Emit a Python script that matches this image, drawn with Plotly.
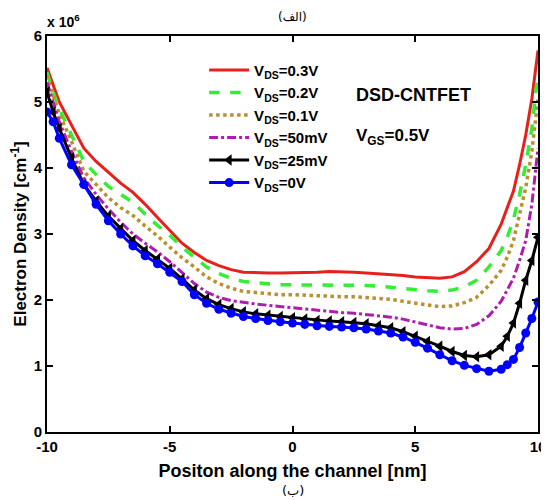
import plotly.graph_objects as go

x_nm = [-10, -9.75, -9.5, -9, -8.5, -8, -7.5, -7, -6.5, -6, -5.5, -5, -4.5, -4, -3.5, -3, -2.5, -2,
        -1.5, -1, -0.5, 0, 0.5, 1, 1.5, 2, 2.5, 3, 3.5, 4, 4.5, 5, 5.5, 6, 6.5, 7, 7.5, 8,
        8.5, 8.75, 9, 9.25, 9.5, 9.75, 10]

vds_03 = [5.52, 5.25, 5.0, 4.65, 4.3, 4.1, 3.93, 3.77, 3.63, 3.45, 3.25, 3.05, 2.86, 2.72, 2.6, 2.52, 2.46, 2.42,
          2.41, 2.41, 2.41, 2.41, 2.41, 2.42, 2.43, 2.43, 2.42, 2.41, 2.4, 2.38, 2.37, 2.35, 2.34, 2.33, 2.35, 2.43, 2.58, 2.78,
          3.15, 3.4, 3.65, 4.05, 4.5, 5.05, 5.78]
vds_02 = [5.45, 5.15, 4.9, 4.5, 4.1, 3.9, 3.72, 3.6, 3.48, 3.3, 3.13, 2.98, 2.8, 2.65, 2.5, 2.4, 2.33, 2.28,
          2.26, 2.24, 2.23, 2.23, 2.23, 2.23, 2.23, 2.23, 2.23, 2.22, 2.21, 2.19, 2.17, 2.15, 2.14, 2.13, 2.15, 2.2, 2.3, 2.5,
          2.75, 2.95, 3.22, 3.6, 4.05, 4.6, 5.45]
vds_01 = [5.4, 5.1, 4.82, 4.4, 3.95, 3.75, 3.55, 3.4, 3.28, 3.12, 2.97, 2.8, 2.64, 2.5, 2.35, 2.25, 2.18, 2.13,
          2.11, 2.09, 2.08, 2.08, 2.07, 2.06, 2.06, 2.05, 2.05, 2.04, 2.03, 2.01, 1.98, 1.95, 1.92, 1.9, 1.91, 1.96, 2.04, 2.22,
          2.45, 2.65, 2.9, 3.28, 3.7, 4.25, 5.05]
vds_50m = [5.3, 5.0, 4.7, 4.25, 3.85, 3.6, 3.38, 3.18, 3.0, 2.86, 2.73, 2.58, 2.42, 2.25, 2.12, 2.04, 1.99, 1.96,
           1.94, 1.92, 1.9, 1.88, 1.86, 1.84, 1.83, 1.81, 1.8, 1.78, 1.77, 1.74, 1.71, 1.67, 1.62, 1.58, 1.56, 1.57, 1.63, 1.76,
           1.98, 2.15, 2.33, 2.6, 2.9, 3.45, 4.3]
vds_25m = [5.15, 4.85, 4.6, 4.15, 3.75, 3.5, 3.27, 3.08, 2.9, 2.75, 2.62, 2.48, 2.32, 2.15, 2.02, 1.93, 1.87, 1.82,
           1.79, 1.77, 1.75, 1.73, 1.71, 1.69, 1.68, 1.67, 1.66, 1.64, 1.61, 1.58, 1.52, 1.45, 1.37, 1.3, 1.22, 1.16, 1.14, 1.17,
           1.3, 1.45, 1.65, 1.95, 2.3, 2.6, 2.95]
vds_0 = [4.85, 4.7, 4.45, 4.05, 3.75, 3.45, 3.2, 3.0, 2.82, 2.67, 2.55, 2.42, 2.28, 2.08, 1.95, 1.86, 1.8, 1.75,
         1.72, 1.69, 1.67, 1.65, 1.63, 1.61, 1.6, 1.59, 1.58, 1.56, 1.53, 1.5, 1.44, 1.36, 1.27, 1.17, 1.08, 1.01, 0.96, 0.92,
         0.95, 1.02, 1.1, 1.28, 1.5, 1.72, 1.97]

series_names = ["V<sub>DS</sub>=0.3V", "V<sub>DS</sub>=0.2V", "V<sub>DS</sub>=0.1V",
                "V<sub>DS</sub>=50mV", "V<sub>DS</sub>=25mV", "V<sub>DS</sub>=0V"]
x_ticks = [-10, -5, 0, 5, 10]
y_ticks = [0, 1, 2, 3, 4, 5, 6]

FONT = "Liberation Sans, Arial, sans-serif"

fig = go.Figure()
styles = [
    dict(line=dict(color="#e8201c", width=3, dash="solid"), mode="lines"),
    dict(line=dict(color="#33ee33", width=3.5, dash="dash"), mode="lines"),
    dict(line=dict(color="#b8902f", width=3.5, dash="dot"), mode="lines"),
    dict(line=dict(color="#b01cb0", width=3, dash="dashdot"), mode="lines"),
    dict(line=dict(color="#000000", width=3, dash="solid"), mode="lines+markers",
         marker=dict(symbol="triangle-left", size=10, color="#000000")),
    dict(line=dict(color="#0000ff", width=3, dash="solid"), mode="lines+markers",
         marker=dict(symbol="circle", size=9, color="#0000ff")),
]
for name, ys, st in zip(series_names, [vds_03, vds_02, vds_01, vds_50m, vds_25m, vds_0], styles):
    fig.add_trace(go.Scatter(x=x_nm, y=ys, name=name, **st))

axis_common = dict(showline=True, linecolor="black", linewidth=2, mirror="ticks",
                   ticks="inside", ticklen=6, tickwidth=1.5, tickcolor="black",
                   showgrid=False, zeroline=False, automargin=False,
                   tickfont=dict(family=FONT, size=15, color="black", weight="bold"))

fig.update_xaxes(range=[-10, 10], tickvals=x_ticks, ticktext=[str(v) for v in x_ticks],
                 title=dict(text="<b>Positon along the channel [nm]</b>", font=dict(family=FONT, size=18, color="black"), standoff=10),
                 **axis_common)
fig.update_yaxes(range=[0, 6], tickvals=y_ticks, ticktext=[str(v) for v in y_ticks],
                 title=dict(text="<b>Electron Density [cm<sup>-1</sup>]</b>", font=dict(family=FONT, size=17, color="black"), standoff=12),
                 **axis_common)

fig.update_layout(
    width=541, height=492,
    margin=dict(l=39, r=11, t=28, b=68),
    paper_bgcolor="white", plot_bgcolor="white",
    font=dict(family=FONT, color="black"),
    legend=dict(x=0.32, y=0.955, xanchor="left", yanchor="top",
                bgcolor="rgba(0,0,0,0)", font=dict(family=FONT, size=15, color="black", weight="bold"),
                tracegroupgap=0, itemwidth=40),
    showlegend=True,
    annotations=[
        dict(text="<b>x 10<sup>6</sup></b>", xref="paper", yref="paper", x=-0.005, y=1.01,
             xanchor="left", yanchor="bottom", showarrow=False, font=dict(family=FONT, size=14, color="black")),
        dict(text="<b>DSD-CNTFET</b>", xref="paper", yref="paper", x=0.625, y=0.85,
             xanchor="left", yanchor="middle", showarrow=False, font=dict(family=FONT, size=18, color="black")),
        dict(text="<b>V<sub>GS</sub>=0.5V</b>", xref="paper", yref="paper", x=0.625, y=0.745,
             xanchor="left", yanchor="middle", showarrow=False, font=dict(family=FONT, size=17, color="black")),
        dict(text="(الف)", xref="paper", yref="paper", x=0.5, y=1.0707, xanchor="center", yanchor="top",
             showarrow=False, font=dict(family="DejaVu Sans", size=12, color="black")),
        dict(text="(ب)", xref="paper", yref="paper", x=0.5, y=-0.1475, xanchor="center", yanchor="middle",
             showarrow=False, font=dict(family="DejaVu Sans", size=13, color="black")),
    ],
)

fig.write_html("out.html")
